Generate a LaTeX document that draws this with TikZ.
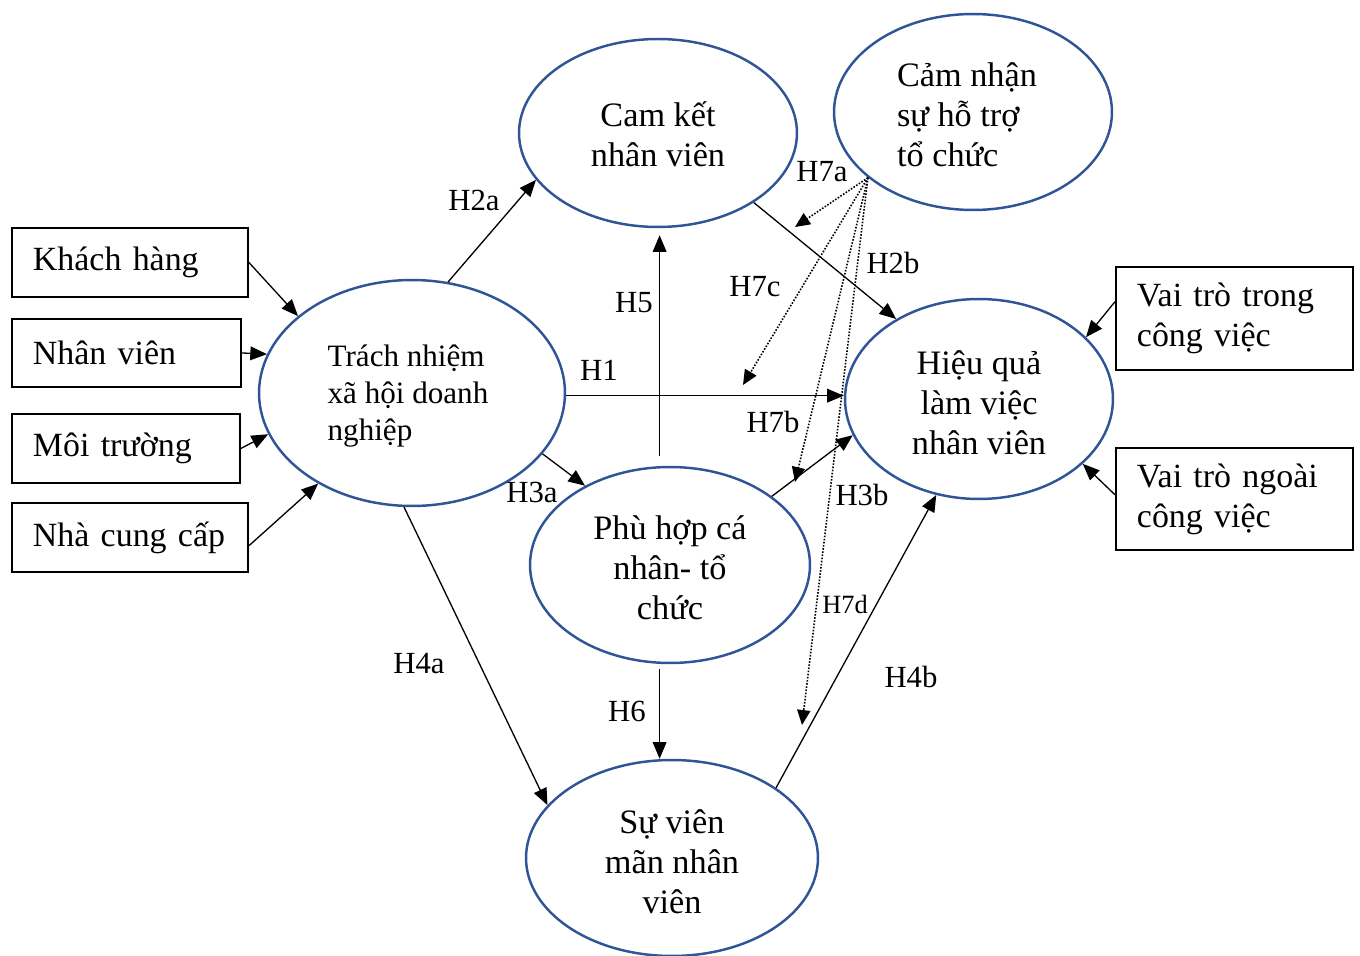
\documentclass[tikz,border=0pt]{standalone}
\usepackage{fontspec}
\setmainfont{Liberation Serif}
\usetikzlibrary{arrows.meta,shapes.geometric}
\definecolor{ellblue}{RGB}{47,85,151}

\begin{document}
\begin{tikzpicture}[x=0.02cm,y=-0.02cm,
  ell/.style={draw=ellblue, line width=1.4pt, ellipse, inner sep=0pt},
  etext/.style={align=center, inner sep=0pt, font=\fontsize{19.5}{22.7}\selectfont},
  box/.style={draw, line width=1.1pt, rectangle, inner xsep=0.42cm, inner ysep=0pt,
    align=left, anchor=north west, font=\fontsize{19.3}{22.7}\selectfont},
  arr/.style={-{Triangle[length=9.5pt,width=7.8pt]}, line width=0.75pt},
  dot/.style={-{Triangle[length=8.5pt,width=7.5pt]}, dash pattern=on 0.9pt off 0.9pt, line width=0.9pt},
  lbl/.style={font=\fontsize{17.5}{20}\selectfont, inner sep=0pt},
  slbl/.style={font=\fontsize{15}{18}\selectfont, inner sep=0pt},
]
\useasboundingbox (0,0) rectangle (1360,956);

% constructs
\node[ell, minimum width=5.56cm, minimum height=3.76cm] (cam) at (658,133) {};
\node[ell, minimum width=5.56cm, minimum height=3.92cm] (cn) at (973,112) {};
\node[ell, minimum width=6.12cm, minimum height=4.52cm] (tn) at (412,393) {};
\node[ell, minimum width=5.36cm, minimum height=4.0cm] (hq) at (979,399) {};
\node[ell, minimum width=5.6cm, minimum height=3.92cm] (ph) at (670,565) {};
\node[ell, minimum width=5.84cm, minimum height=3.92cm] (sv) at (672,858) {};

\node[etext] (camt) at (658,134) {Cam kết\\nhân viên};
\node[etext, align=left] (cnt) at (967,115) {Cảm nhận\\sự hỗ trợ\\tổ chức};
\node[etext, align=left, font=\fontsize{17.7}{21}\selectfont] (tnt) at (408,396) {Trách nhiệm\\xã hội doanh\\nghiệp};
\node[etext] (hqt) at (979,403) {Hiệu quả\\làm việc\\nhân viên};
\node[etext] (pht) at (670,568) {Phù hợp cá\\nhân- tổ\\chức};
\node[etext] (svt) at (672,862) {Sự viên\\mãn nhân\\viên};

% stakeholder boxes
\node[box, minimum width=4.72cm, minimum height=1.38cm, text width=3.88cm] (kh) at (11,227) {Khách hàng};
\node[box, minimum width=4.58cm, minimum height=1.36cm, text width=3.74cm] (nv) at (11,318) {Nhân viên};
\node[box, minimum width=4.56cm, minimum height=1.38cm, text width=3.72cm] (mt) at (11,413) {Môi trường};
\node[box, minimum width=4.72cm, minimum height=1.38cm, text width=3.88cm] (ncc) at (11,502) {Nhà~cung~cấp};

% role boxes
\node[box, minimum width=4.74cm, minimum height=2.06cm, text width=3.9cm, inner xsep=0.42cm] (vtt) at (1115,266) {Vai trò trong\\công việc};
\node[box, minimum width=4.74cm, minimum height=2.04cm, text width=3.9cm, inner xsep=0.42cm] (vtn) at (1115,447) {Vai trò ngoài\\công việc};

% stakeholders -> CSR
\draw[arr] (kh.east) -- (tn.146);
\draw[arr] (nv.east) -- (tn.165);
\draw[arr] (mt.east) -- (tn.196);
\draw[arr] (ncc.-4) -- (tn.224);

% roles -> performance
\draw[arr] (vtt.172) -- (hq.30);
\draw[arr] (vtn.178) -- (hq.328);

% hypotheses
\draw[arr] (tn.72) -- (cam.201);
\draw[arr] (cam.324) -- (hq.136);
\draw[arr] (tn.-1) -- (tn.-1 -| hq.west);
\draw[arr, shorten <=0.2cm, shorten >=0.14cm] (ph.96) -- (ph.96 |- cam.south);
\draw[arr] (tn.335) -- (ph.137);
\draw[arr] (ph.34) -- (hq.196);
\draw[arr] (tn.266) -- (sv.157);
\draw[arr] (sv.34) -- (hq.246);
\draw[arr, shorten <=0.1cm] (ph.264) -- (ph.264 |- sv.north);

% moderating effects of perceived organisational support
\coordinate (o7) at (cn.212);
\coordinate (t7a) at (795,227);
\coordinate (t7c) at (743,385);
\coordinate (t7b) at (795,482);
\coordinate (t7d) at (802,725);
\draw[dot] (o7) -- (t7a);
\draw[dot] (o7) -- (t7c);
\draw[dot] (o7) -- (t7b);
\draw[dot] (o7) -- (t7d);

% labels
\node[lbl] (lh2a) at (474,200) {H2a};
\node[lbl] (lh7a) at (822,172) {H7a};
\node[lbl] (lh2b) at (893,263) {H2b};
\node[lbl] (lh7c) at (755,287) {H7c};
\node[lbl] (lh5) at (634,303) {H5};
\node[lbl] (lh1) at (599,370) {H1};
\node[lbl] (lh7b) at (773,422) {H7b};
\node[lbl] (lh3a) at (532,492) {H3a};
\node[lbl] (lh3b) at (862,495) {H3b};
\node[slbl] (lh7d) at (845,604) {H7d};
\node[lbl] (lh4a) at (419,664) {H4a};
\node[lbl] (lh4b) at (911,677) {H4b};
\node[lbl] (lh6) at (627,711) {H6};
\end{tikzpicture}
\end{document}
